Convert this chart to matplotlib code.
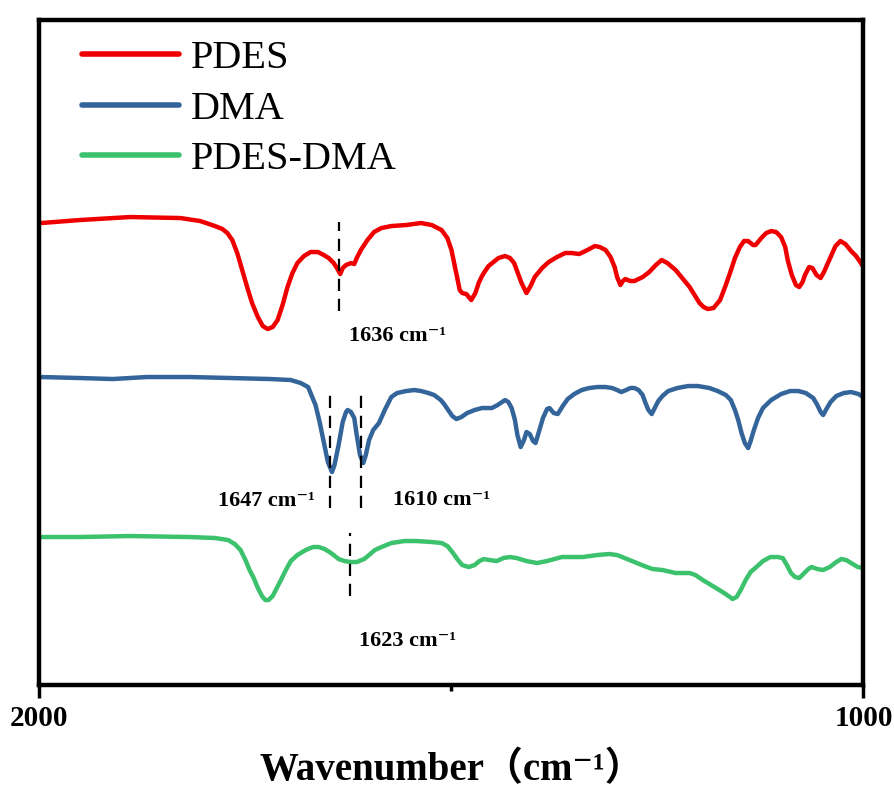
import matplotlib
matplotlib.use("Agg")
import matplotlib.pyplot as plt

# FTIR spectra, values (offset transmittance, a.u.)
pdes_wn = [1998, 1951, 1890, 1829, 1805, 1787, 1778, 1772, 1766, 1760, 1754, 1748,
           1742, 1735, 1729, 1723, 1717, 1711, 1705, 1699, 1693, 1687, 1679, 1671,
           1662, 1655, 1649, 1643, 1639, 1635, 1632, 1628, 1622, 1618, 1615, 1610,
           1602, 1594, 1585, 1573, 1555, 1537, 1524, 1512, 1505, 1500, 1495, 1490,
           1487, 1482, 1476, 1471, 1467, 1463, 1460, 1455, 1449, 1443, 1435, 1429,
           1424, 1420, 1415, 1409, 1404, 1399, 1390, 1382, 1372, 1362, 1354, 1345,
           1335, 1326, 1320, 1313, 1307, 1302, 1299, 1295, 1292, 1289, 1283, 1278,
           1268, 1260, 1252, 1245, 1238, 1228, 1220, 1211, 1205, 1199, 1194, 1189,
           1182, 1174, 1168, 1162, 1156, 1150, 1145, 1140, 1134, 1131, 1124, 1118,
           1112, 1106, 1100, 1095, 1092, 1087, 1082, 1078, 1074, 1071, 1066, 1062,
           1057, 1052, 1048, 1040, 1034, 1028, 1022, 1015, 1009, 1004, 1000]
pdes_t = [460, 463, 466, 465, 462, 457, 454, 450, 443, 430, 413, 396,
          380, 366, 357, 354, 356, 363, 378, 396, 410, 420, 427, 431,
          431, 428, 425, 420, 415, 409, 415, 418, 420, 419, 425, 433,
          443, 451, 455, 457, 458, 460, 458, 453, 445, 433, 413, 393,
          390, 389, 383, 390, 400, 407, 411, 417, 421, 425, 427, 425,
          420, 411, 400, 390, 397, 406, 415, 421, 426, 430, 430, 429,
          433, 437, 436, 433, 426, 416, 406, 398, 402, 404, 402, 402,
          406, 411, 418, 423, 420, 413, 405, 396, 388, 380, 376, 374,
          375, 383, 396, 410, 425, 436, 442, 442, 438, 438, 445, 450,
          452, 451, 446, 436, 423, 408, 398, 396, 401, 408, 416, 415,
          408, 405, 411, 426, 437, 442, 439, 432, 427, 421, 416]

dma_wn = [1998, 1951, 1911, 1870, 1817, 1768, 1720, 1695, 1683, 1674, 1670, 1665,
          1660, 1655, 1650, 1645, 1642, 1637, 1632, 1628, 1626, 1622, 1618, 1615,
          1611, 1607, 1604, 1600, 1595, 1588, 1581, 1573, 1566, 1555, 1545, 1537,
          1528, 1521, 1513, 1509, 1504, 1499, 1494, 1488, 1481, 1472, 1463, 1451,
          1444, 1435, 1431, 1427, 1423, 1420, 1416, 1412, 1409, 1405, 1401, 1398,
          1394, 1389, 1384, 1381, 1376, 1371, 1365, 1359, 1351, 1342, 1333, 1323,
          1313, 1305, 1299, 1294, 1288, 1283, 1278, 1273, 1268, 1265, 1261, 1257,
          1254, 1249, 1244, 1237, 1226, 1213, 1201, 1187, 1177, 1167, 1161, 1156,
          1152, 1148, 1144, 1140, 1137, 1133, 1128, 1122, 1112, 1100, 1089, 1079,
          1070, 1061, 1056, 1052, 1049, 1045, 1040, 1033, 1024, 1015, 1006, 999]
dma_t = [306, 305, 304, 306, 306, 305, 304, 303, 300, 296, 288, 278,
         261, 241, 221, 211, 218, 238, 261, 271, 273, 271, 265, 248,
         228, 220, 228, 243, 253, 260, 273, 286, 290, 292, 293, 292,
         290, 288, 283, 279, 273, 267, 264, 266, 270, 273, 275, 275,
         278, 283, 281, 275, 263, 248, 236, 243, 251, 249, 242, 240,
         251, 265, 274, 275, 270, 269, 277, 284, 289, 293, 295, 296,
         296, 295, 293, 291, 293, 295, 295, 293, 288, 281, 273, 269,
         274, 282, 287, 292, 295, 297, 297, 295, 292, 288, 283, 273,
         263, 250, 240, 235, 242, 253, 265, 275, 283, 289, 292, 292,
         290, 285, 278, 271, 268, 274, 281, 287, 290, 291, 289, 285]

mix_wn = [1998, 1951, 1890, 1817, 1787, 1771, 1763, 1756, 1750, 1745, 1740, 1735,
          1730, 1726, 1722, 1717, 1712, 1707, 1701, 1695, 1687, 1677, 1668, 1661,
          1654, 1648, 1643, 1637, 1630, 1622, 1615, 1606, 1600, 1593, 1585, 1573,
          1557, 1543, 1524, 1512, 1505, 1499, 1493, 1487, 1479, 1472, 1466, 1461,
          1454, 1445, 1437, 1429, 1421, 1409, 1396, 1384, 1366, 1354, 1341, 1323,
          1309, 1299, 1290, 1278, 1266, 1256, 1244, 1228, 1211, 1204, 1195, 1183,
          1171, 1162, 1159, 1154, 1149, 1143, 1137, 1130, 1122, 1113, 1104, 1098,
          1093, 1088, 1083, 1078, 1073, 1067, 1063, 1056, 1049, 1041, 1033, 1027,
          1021, 1015, 1007, 1000]
mix_t = [146, 146, 147, 146, 145, 143, 139, 133, 123, 113, 105, 95,
         87, 83, 83, 87, 95, 103, 113, 122, 128, 133, 136, 136,
         134, 131, 128, 124, 122, 121, 121, 124, 128, 133, 136, 140,
         142, 142, 141, 140, 137, 131, 124, 118, 116, 118, 122, 124,
         123, 122, 125, 126, 125, 122, 120, 122, 126, 126, 126, 128,
         129, 128, 125, 121, 117, 114, 113, 110, 110, 108, 103, 97,
         91, 86, 84, 86, 93, 103, 111, 116, 122, 126, 126, 125,
         118, 110, 106, 105, 109, 114, 116, 114, 113, 116, 121, 124,
         123, 120, 116, 115]

series_names = ["PDES", "DMA", "PDES-DMA"]
series_colors = ["#EE0000", "#34659A", "#3CC16C"]

# marked peaks: wavenumber, dashed-line span, label anchor
peak_wn = [1636, 1647, 1610, 1623]
peak_span = [(372, 461), (175, 290), (175, 290), (87, 150)]
peak_label_xy = [(1624, 347), (1783, 182), (1571, 183), (1612, 42)]

plt.rcParams["font.family"] = ["Liberation Serif", "DejaVu Serif", "Noto Sans CJK SC"]

fig = plt.figure(figsize=(8.95, 7.92), dpi=100)
ax = fig.add_axes([0.0441, 0.1357, 0.9207, 0.8390])

for wn, t, name, col in zip([pdes_wn, dma_wn, mix_wn], [pdes_t, dma_t, mix_t],
                            series_names, series_colors):
    ax.plot(wn, t, color=col, lw=3.2, label=name, solid_joinstyle="round",
            solid_capstyle="round")

for wn, (y0, y1), (tx, ty) in zip(peak_wn, peak_span, peak_label_xy):
    ax.plot([wn, wn], [y0, y1], color="black", lw=1.6, linestyle=(0, (5.5, 3.5)))
    ax.text(tx, ty, f"{wn} cm⁻¹", fontsize=16, fontweight="bold",
            ha="left", va="center")

ax.set_xlim(2000, 1000)
ax.set_ylim(-1.5, 663)
ax.set_xticks([2000, 1000])
ax.set_xticklabels(["2000", "1000"], fontsize=21, fontweight="bold")
ax.set_xticks([1500], minor=True)
ax.tick_params(axis="x", which="major", direction="out", length=9, width=2.5, pad=6)
ax.tick_params(axis="x", which="minor", direction="out", length=4.5, width=2.5)
ax.set_yticks([])
for sp in ax.spines.values():
    sp.set_linewidth(3.2)

ax.set_xlabel("Wavenumber（cm⁻¹）", fontsize=28, fontweight="bold", labelpad=14)

leg = ax.legend(loc="upper left", bbox_to_anchor=(82 / 895, 1 - 40 / 792),
                bbox_transform=fig.transFigure, frameon=False, fontsize=29,
                handlelength=2.4, handletextpad=0.3, labelspacing=0.33,
                borderpad=0, borderaxespad=0)
for line in leg.get_lines():
    line.set_linewidth(4)

fig.savefig("out.png", dpi=100)
